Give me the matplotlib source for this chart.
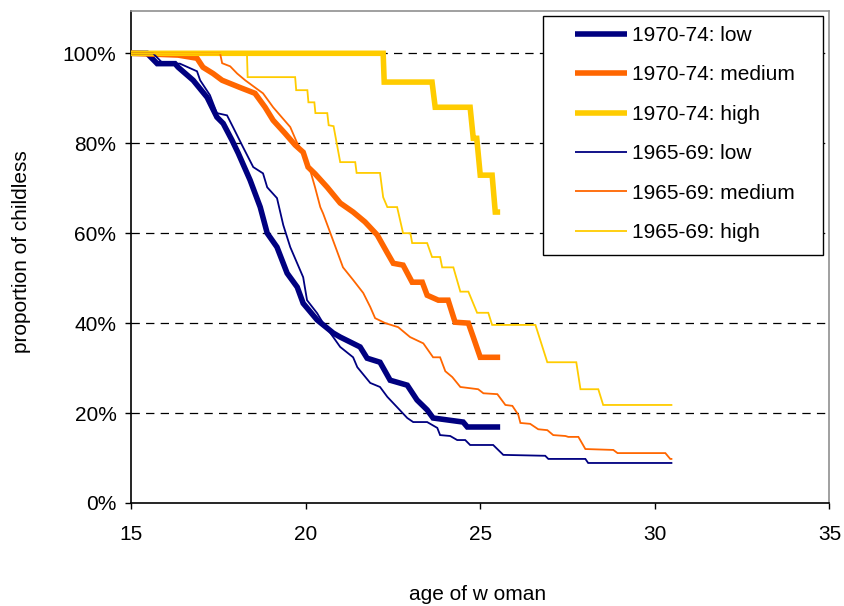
import matplotlib
matplotlib.use("Agg")
import matplotlib.pyplot as plt
from matplotlib.patches import Rectangle
from matplotlib.ticker import FuncFormatter

plt.rcParams['font.family'] = ['Liberation Sans', 'DejaVu Sans']
plt.rcParams['lines.scale_dashes'] = False

# ---------------- data (age of woman, % childless) ----------------
age_7074_low = [15.0, 15.46, 15.75, 16.26, 16.35, 16.78, 17.18, 17.46, 17.64, 17.89, 18.07, 18.41,
                18.70, 18.90, 19.18, 19.47, 19.76, 19.93, 20.33, 20.79, 20.99, 21.56, 21.76, 22.13,
                22.42, 22.91, 23.19, 23.48, 23.65, 24.51, 24.63, 25.57]
pct_7074_low = [100, 100, 97.7, 97.7, 96.9, 94.0, 90.2, 85.8, 84.4, 80.7, 77.8, 71.8,
                65.8, 60.0, 56.9, 51.1, 48.0, 44.4, 40.7, 37.8, 36.9, 34.7, 32.2, 31.3,
                27.3, 26.2, 22.9, 20.7, 18.9, 18.0, 16.9, 16.9]

age_7074_med = [15.0, 16.35, 16.89, 17.06, 17.35, 17.61, 18.12, 18.55, 18.84, 19.07, 19.41, 19.7,
                19.93, 20.07, 20.27, 20.62, 20.99, 21.36, 21.7, 22.05, 22.34, 22.51, 22.79, 23.05,
                23.34, 23.48, 23.8, 24.08, 24.28, 24.66, 24.8, 25.0, 25.57]
pct_7074_med = [100, 99.6, 98.9, 96.9, 95.5, 94.0, 92.4, 91.1, 88.0, 85.1, 82.2, 79.6,
                78.0, 74.7, 73.2, 70.2, 66.7, 64.7, 62.5, 59.6, 55.6, 53.3, 52.9, 49.1,
                49.1, 46.2, 45.1, 45.1, 40.2, 40.0, 36.9, 32.4, 32.4]

age_7074_high = [15.0, 22.22, 22.25, 23.62, 23.71, 24.71, 24.8, 24.9, 25.0, 25.34, 25.43, 25.57]
pct_7074_high = [100, 100, 93.6, 93.6, 88.0, 88.0, 81.1, 81.1, 72.9, 72.9, 64.7, 64.7]

age_6569_low = [15.0, 15.63, 15.92, 16.4, 16.89, 16.98, 17.26, 17.46, 17.75, 17.92, 18.21, 18.5,
                18.78, 18.9, 19.18, 19.36, 19.56, 19.93, 20.04, 20.33, 20.5, 20.79, 20.99, 21.36,
                21.48, 21.85, 22.13, 22.34, 22.62, 22.91, 23.08, 23.48, 23.77, 23.85, 24.14, 24.34,
                24.57, 24.71, 25.37, 25.66, 26.86, 26.95, 28.01, 28.09, 30.5]
pct_6569_low = [100, 100, 97.7, 97.7, 96.0, 94.0, 90.7, 86.7, 86.2, 83.6, 79.1, 74.7,
                73.3, 70.2, 67.8, 61.8, 56.9, 50.2, 45.1, 42.2, 40.0, 36.9, 34.7, 32.4,
                30.2, 26.7, 25.8, 23.6, 21.3, 18.9, 18.0, 18.0, 16.7, 15.1, 14.9, 14.0,
                14.0, 12.9, 12.9, 10.7, 10.5, 9.8, 9.8, 8.9, 8.9]

age_6569_med = [15.0, 17.55, 17.61, 17.84, 18.04, 18.27, 18.55, 18.78, 19.07, 19.27, 19.56, 19.76,
                19.93, 20.13, 20.27, 20.42, 20.5, 20.7, 21.07, 21.36, 21.65, 21.85, 21.99, 22.28,
                22.65, 22.99, 23.37, 23.65, 23.85, 24.0, 24.2, 24.43, 24.94, 25.09, 25.49, 25.72,
                25.92, 26.09, 26.15, 26.43, 26.66, 26.92, 27.09, 27.44, 27.52, 27.81, 28.01, 28.81,
                28.93, 30.3, 30.44, 30.5]
pct_6569_med = [100, 100, 97.8, 97.1, 95.5, 94.0, 92.4, 91.1, 88.0, 86.2, 83.6, 80.0,
                77.8, 74.0, 70.2, 65.8, 64.4, 60.2, 52.4, 49.6, 46.7, 43.6, 41.1, 40.0,
                39.1, 36.9, 35.5, 32.4, 32.4, 29.3, 28.0, 25.8, 25.3, 24.4, 24.2, 21.8,
                21.6, 19.6, 17.8, 17.6, 16.4, 16.2, 15.1, 14.9, 14.7, 14.7, 12.0, 11.8,
                11.1, 11.1, 9.8, 9.8]

age_6569_high = [15.0, 18.32, 18.34, 19.70, 19.73, 20.05, 20.08, 20.25, 20.28, 20.62, 20.66, 20.8,
                 20.99, 21.42, 21.46, 22.13, 22.22, 22.34, 22.62, 22.79, 23.0, 23.05, 23.48, 23.62,
                 23.85, 23.91, 24.23, 24.43, 24.66, 24.91, 25.23, 25.34, 26.58, 26.92, 27.75, 27.87,
                 28.38, 28.52, 30.5]
pct_6569_high = [100, 100, 94.7, 94.7, 91.8, 91.8, 89.1, 89.1, 86.7, 86.7, 84.0, 83.8,
                 75.8, 75.8, 73.4, 73.4, 68.0, 65.8, 65.8, 60.0, 60.0, 57.8, 57.8, 54.7,
                 54.7, 52.4, 52.4, 47.0, 47.0, 42.3, 42.3, 39.6, 39.6, 31.3, 31.3, 25.3,
                 25.3, 21.8, 21.8]

labels = ["1970-74: low", "1970-74: medium", "1970-74: high",
          "1965-69: low", "1965-69: medium", "1965-69: high"]
x_ticks = [15, 20, 25, 30, 35]
y_ticks = [0, 20, 40, 60, 80, 100]

# ---------------- styling ----------------
NAVY, ORANGE, YELLOW = "#000080", "#FF6600", "#FFCC00"
THICK, THIN = 4.0, 1.3
FS = 15

W, H = 845, 606
fig = plt.figure(figsize=(W / 100, H / 100), dpi=100)
L, R, T, B = 131, 829.5, 11, 503
ax = fig.add_axes([L / W, 1 - B / H, (R - L) / W, (B - T) / H])

series = [
    (age_7074_low, pct_7074_low, NAVY, THICK),
    (age_7074_med, pct_7074_med, ORANGE, THICK),
    (age_7074_high, pct_7074_high, YELLOW, THICK),
    (age_6569_low, pct_6569_low, NAVY, THIN),
    (age_6569_med, pct_6569_med, ORANGE, THIN),
    (age_6569_high, pct_6569_high, YELLOW, THIN),
]
handles = []
for (a, p, c, lw), lab in zip(series, labels):
    ln, = ax.plot(a, [v / 100 for v in p], color=c, lw=lw, label=lab,
                  solid_joinstyle='miter', solid_capstyle='butt', zorder=3)
    handles.append(ln)

ax.set_xlim(15, 35)
ax.set_ylim(0, (B - T) / (B - 53.3))
ax.set_xticks(x_ticks)
ax.set_yticks([v / 100 for v in y_ticks])
ax.yaxis.set_major_formatter(FuncFormatter(lambda v, _: f"{v * 100:.0f}%"))
ax.tick_params(axis='both', direction='out', length=4.5, width=1, colors='black',
               labelsize=FS)
ax.tick_params(axis='y', pad=6)
ax.tick_params(axis='x', pad=11)

for v in y_ticks[1:]:
    ax.axhline(v / 100, color='black', lw=0.9, dashes=(6, 4.5), zorder=1)

for s in ['left', 'bottom']:
    ax.spines[s].set_color('black')
    ax.spines[s].set_linewidth(1.2)
for s in ['top', 'right']:
    ax.spines[s].set_color('#909090')
    ax.spines[s].set_linewidth(1.2)

fig.text(478 / W, 1 - 595 / H, "age of w oman", ha='center', va='center', fontsize=FS)
fig.text(22 / W, 1 - 252 / H, "proportion of childless", ha='center', va='center',
         rotation=90, fontsize=FS)

# legend box
fig.patches.append(Rectangle((543 / W, 1 - 255 / H), (823 - 543) / W, (255 - 16) / H,
                             transform=fig.transFigure, facecolor='white',
                             edgecolor='black', lw=1.0, zorder=4))
leg = fig.legend(handles=handles, labels=labels, loc='upper left',
                 bbox_to_anchor=(575 / W, 1 - 26 / H), frameon=False,
                 fontsize=FS, handlelength=2.5, handletextpad=0.25,
                 labelspacing=0.98, borderpad=0, borderaxespad=0)
leg.set_zorder(5)

fig.savefig("out.png", dpi=100)
